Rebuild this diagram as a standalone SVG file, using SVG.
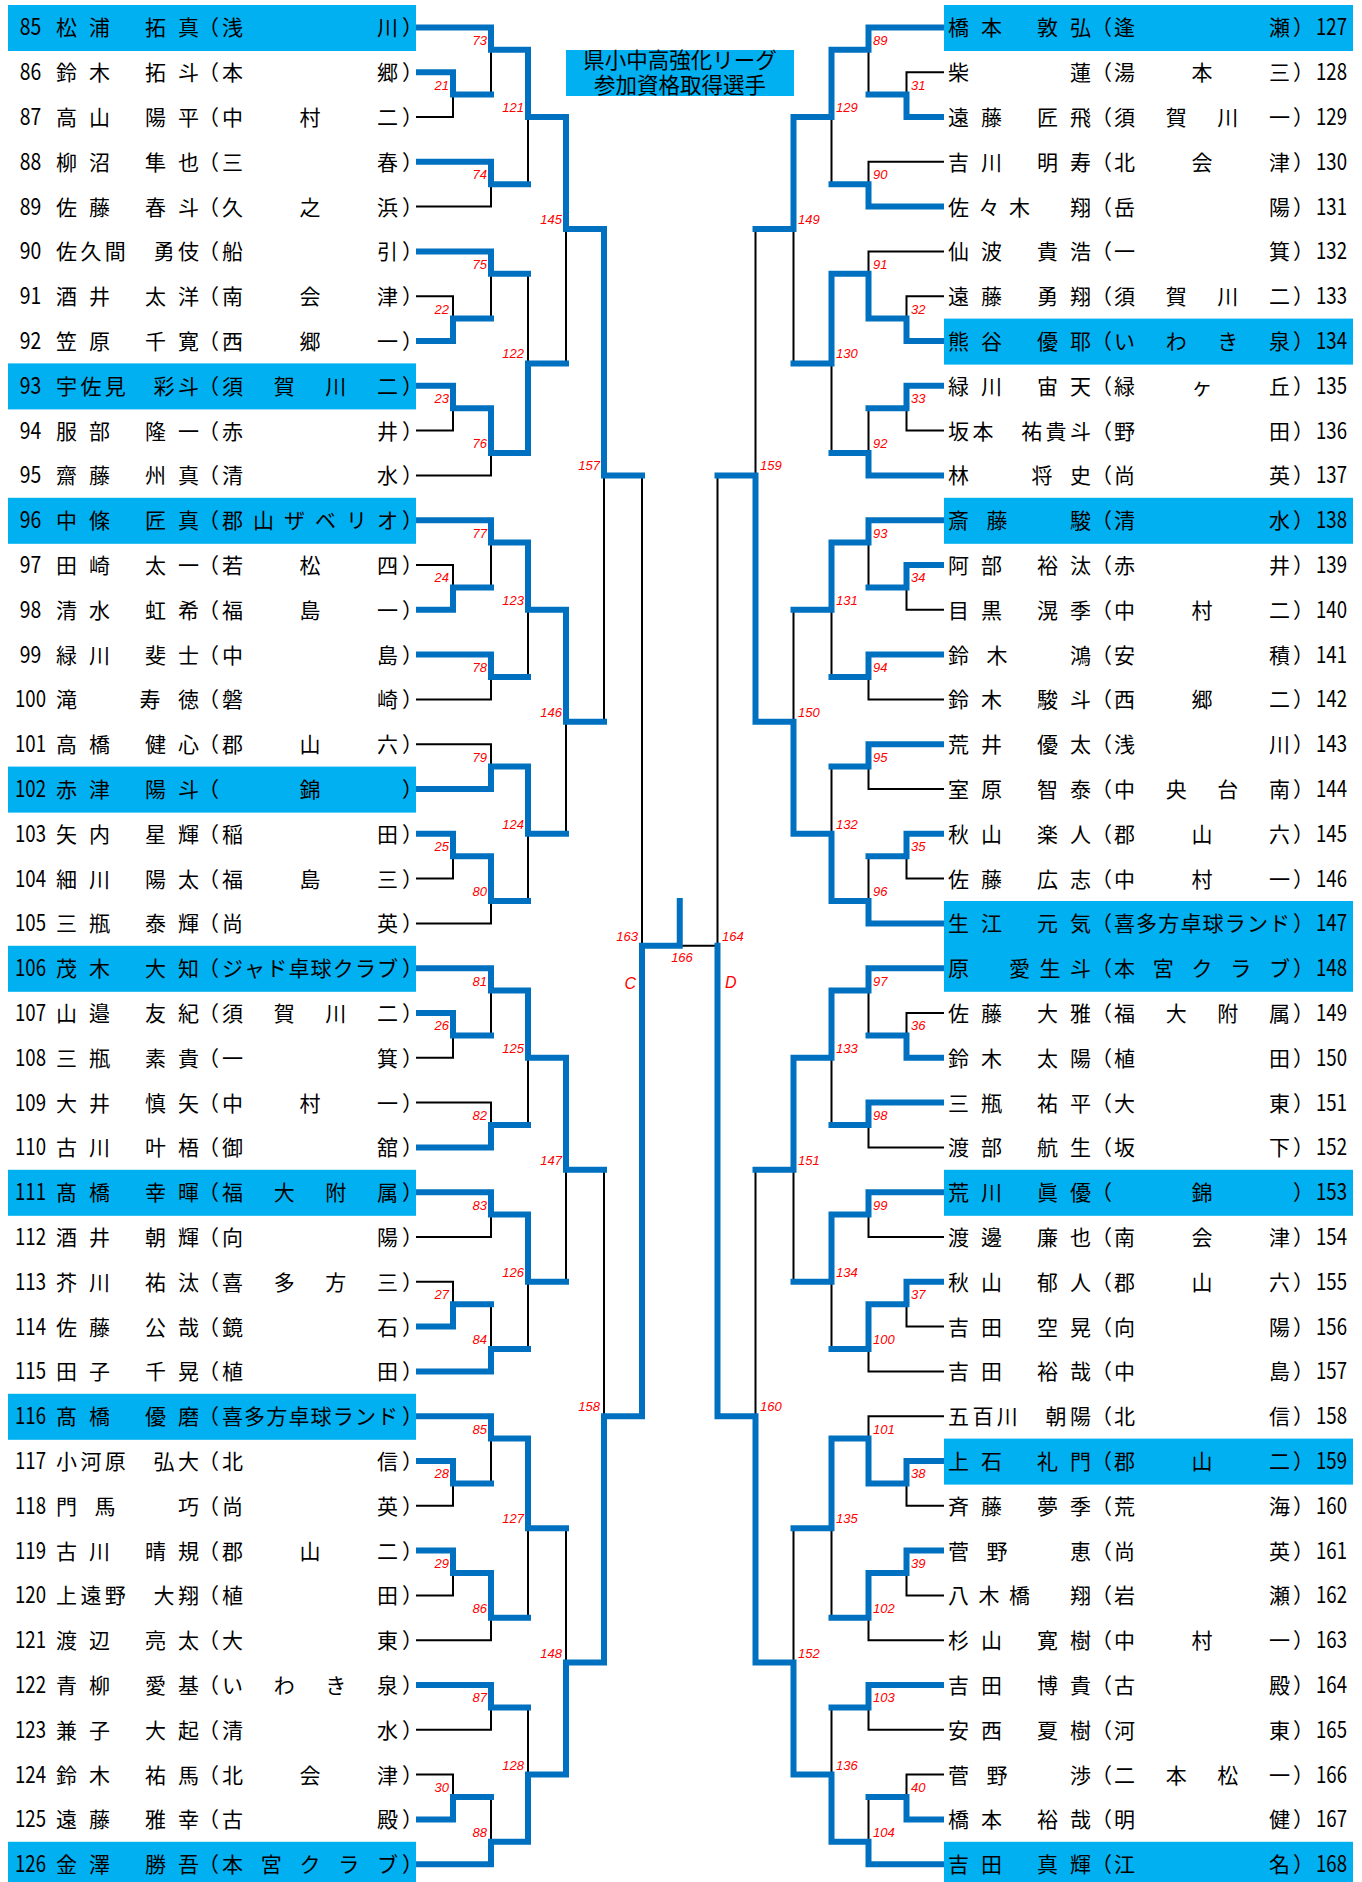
<svg xmlns="http://www.w3.org/2000/svg" width="1362" height="1882" viewBox="0 0 1362 1882">
<style>
.bg{fill:#fff}
.hl{fill:#00B0F0}
.t{font-family:"Noto Sans CJK JP","Noto Sans",sans-serif;font-size:21px;fill:#000}
.n{font-family:"Noto Sans CJK JP","Noto Sans",sans-serif;font-size:23px;fill:#000;text-anchor:middle}
.ttl{font-family:"Noto Sans CJK JP","Noto Sans",sans-serif;font-size:21.5px;fill:#000;text-anchor:middle}
.w{fill:none;stroke:#0070C0;stroke-width:6;stroke-linecap:square}
.l{fill:none;stroke:#000;stroke-width:2;stroke-linecap:square}
.lb{font-family:"Liberation Sans",sans-serif;font-style:italic;font-size:13px;fill:#FF0000;text-anchor:end}
.rb{font-family:"Liberation Sans",sans-serif;font-style:italic;font-size:13px;fill:#FF0000;text-anchor:start}
.cb{font-family:"Liberation Sans",sans-serif;font-style:italic;font-size:13px;fill:#FF0000;text-anchor:middle}
.big{font-size:16px}
</style>
<rect class="bg" x="0" y="0" width="1362" height="1882"/>
<g id="title"><rect class="hl" x="566" y="50" width="228" height="46"/><text class="ttl"><tspan x="680" y="68">県小中高強化リーグ</tspan><tspan x="680" y="93">参加資格取得選手</tspan></text></g>
<g id="left-players">
<g id="p85"><rect class="hl" x="8" y="5" width="408" height="46"/><text class="n" x="30.5" y="35.4" textLength="21.5" lengthAdjust="spacingAndGlyphs">85</text><text class="t" x="56 89.1 144.9 178" y="35.4">松浦拓真</text><text class="t" x="198 222 377 402" y="35.4">（浅川）</text></g>
<g id="p86"><text class="n" x="30.5" y="80.2" textLength="21.5" lengthAdjust="spacingAndGlyphs">86</text><text class="t" x="56 89.1 144.9 178" y="80.2">鈴木拓斗</text><text class="t" x="198 222 377 402" y="80.2">（本郷）</text></g>
<g id="p87"><text class="n" x="30.5" y="125" textLength="21.5" lengthAdjust="spacingAndGlyphs">87</text><text class="t" x="56 89.1 144.9 178" y="125">高山陽平</text><text class="t" x="198 222 299.5 377 402" y="125">（中村二）</text></g>
<g id="p88"><text class="n" x="30.5" y="169.8" textLength="21.5" lengthAdjust="spacingAndGlyphs">88</text><text class="t" x="56 89.1 144.9 178" y="169.8">柳沼隼也</text><text class="t" x="198 222 377 402" y="169.8">（三春）</text></g>
<g id="p89"><text class="n" x="30.5" y="214.6" textLength="21.5" lengthAdjust="spacingAndGlyphs">89</text><text class="t" x="56 89.1 144.9 178" y="214.6">佐藤春斗</text><text class="t" x="198 222 299.5 377 402" y="214.6">（久之浜）</text></g>
<g id="p90"><text class="n" x="30.5" y="259.4" textLength="21.5" lengthAdjust="spacingAndGlyphs">90</text><text class="t" x="56 80.4 104.8 153.6 178" y="259.4">佐久間勇伎</text><text class="t" x="198 222 377 402" y="259.4">（船引）</text></g>
<g id="p91"><text class="n" x="30.5" y="304.2" textLength="21.5" lengthAdjust="spacingAndGlyphs">91</text><text class="t" x="56 89.1 144.9 178" y="304.2">酒井太洋</text><text class="t" x="198 222 299.5 377 402" y="304.2">（南会津）</text></g>
<g id="p92"><text class="n" x="30.5" y="349" textLength="21.5" lengthAdjust="spacingAndGlyphs">92</text><text class="t" x="56 89.1 144.9 178" y="349">笠原千寛</text><text class="t" x="198 222 299.5 377 402" y="349">（西郷一）</text></g>
<g id="p93"><rect class="hl" x="8" y="363.4" width="408" height="46"/><text class="n" x="30.5" y="393.8" textLength="21.5" lengthAdjust="spacingAndGlyphs">93</text><text class="t" x="56 80.4 104.8 153.6 178" y="393.8">宇佐見彩斗</text><text class="t" x="198 222 273.7 325.3 377 402" y="393.8">（須賀川二）</text></g>
<g id="p94"><text class="n" x="30.5" y="438.6" textLength="21.5" lengthAdjust="spacingAndGlyphs">94</text><text class="t" x="56 89.1 144.9 178" y="438.6">服部隆一</text><text class="t" x="198 222 377 402" y="438.6">（赤井）</text></g>
<g id="p95"><text class="n" x="30.5" y="483.4" textLength="21.5" lengthAdjust="spacingAndGlyphs">95</text><text class="t" x="56 89.1 144.9 178" y="483.4">齋藤州真</text><text class="t" x="198 222 377 402" y="483.4">（清水）</text></g>
<g id="p96"><rect class="hl" x="8" y="497.8" width="408" height="46"/><text class="n" x="30.5" y="528.2" textLength="21.5" lengthAdjust="spacingAndGlyphs">96</text><text class="t" x="56 89.1 144.9 178" y="528.2">中條匠真</text><text class="t" x="198 222 253 284 315 346 377 402" y="528.2">（郡山ザベリオ）</text></g>
<g id="p97"><text class="n" x="30.5" y="573" textLength="21.5" lengthAdjust="spacingAndGlyphs">97</text><text class="t" x="56 89.1 144.9 178" y="573">田崎太一</text><text class="t" x="198 222 299.5 377 402" y="573">（若松四）</text></g>
<g id="p98"><text class="n" x="30.5" y="617.8" textLength="21.5" lengthAdjust="spacingAndGlyphs">98</text><text class="t" x="56 89.1 144.9 178" y="617.8">清水虹希</text><text class="t" x="198 222 299.5 377 402" y="617.8">（福島一）</text></g>
<g id="p99"><text class="n" x="30.5" y="662.6" textLength="21.5" lengthAdjust="spacingAndGlyphs">99</text><text class="t" x="56 89.1 144.9 178" y="662.6">緑川斐士</text><text class="t" x="198 222 377 402" y="662.6">（中島）</text></g>
<g id="p100"><text class="n" x="30.5" y="707.4" textLength="31" lengthAdjust="spacingAndGlyphs">100</text><text class="t" x="56 139.5 178" y="707.4">滝寿徳</text><text class="t" x="198 222 377 402" y="707.4">（磐崎）</text></g>
<g id="p101"><text class="n" x="30.5" y="752.2" textLength="31" lengthAdjust="spacingAndGlyphs">101</text><text class="t" x="56 89.1 144.9 178" y="752.2">高橋健心</text><text class="t" x="198 222 299.5 377 402" y="752.2">（郡山六）</text></g>
<g id="p102"><rect class="hl" x="8" y="766.6" width="408" height="46"/><text class="n" x="30.5" y="797" textLength="31" lengthAdjust="spacingAndGlyphs">102</text><text class="t" x="56 89.1 144.9 178" y="797">赤津陽斗</text><text class="t" x="198 299.5 402" y="797">（錦）</text></g>
<g id="p103"><text class="n" x="30.5" y="841.8" textLength="31" lengthAdjust="spacingAndGlyphs">103</text><text class="t" x="56 89.1 144.9 178" y="841.8">矢内星輝</text><text class="t" x="198 222 377 402" y="841.8">（稲田）</text></g>
<g id="p104"><text class="n" x="30.5" y="886.6" textLength="31" lengthAdjust="spacingAndGlyphs">104</text><text class="t" x="56 89.1 144.9 178" y="886.6">細川陽太</text><text class="t" x="198 222 299.5 377 402" y="886.6">（福島三）</text></g>
<g id="p105"><text class="n" x="30.5" y="931.4" textLength="31" lengthAdjust="spacingAndGlyphs">105</text><text class="t" x="56 89.1 144.9 178" y="931.4">三瓶泰輝</text><text class="t" x="198 222 377 402" y="931.4">（尚英）</text></g>
<g id="p106"><rect class="hl" x="8" y="945.8" width="408" height="46"/><text class="n" x="30.5" y="976.2" textLength="31" lengthAdjust="spacingAndGlyphs">106</text><text class="t" x="56 89.1 144.9 178" y="976.2">茂木大知</text><text class="t" x="198 222 244.1 266.3 288.4 310.6 332.7 354.9 377 402" y="976.2">（ジャド卓球クラブ）</text></g>
<g id="p107"><text class="n" x="30.5" y="1021" textLength="31" lengthAdjust="spacingAndGlyphs">107</text><text class="t" x="56 89.1 144.9 178" y="1021">山邉友紀</text><text class="t" x="198 222 273.7 325.3 377 402" y="1021">（須賀川二）</text></g>
<g id="p108"><text class="n" x="30.5" y="1065.8" textLength="31" lengthAdjust="spacingAndGlyphs">108</text><text class="t" x="56 89.1 144.9 178" y="1065.8">三瓶素貴</text><text class="t" x="198 222 377 402" y="1065.8">（一箕）</text></g>
<g id="p109"><text class="n" x="30.5" y="1110.6" textLength="31" lengthAdjust="spacingAndGlyphs">109</text><text class="t" x="56 89.1 144.9 178" y="1110.6">大井慎矢</text><text class="t" x="198 222 299.5 377 402" y="1110.6">（中村一）</text></g>
<g id="p110"><text class="n" x="30.5" y="1155.4" textLength="31" lengthAdjust="spacingAndGlyphs">110</text><text class="t" x="56 89.1 144.9 178" y="1155.4">古川叶梧</text><text class="t" x="198 222 377 402" y="1155.4">（御舘）</text></g>
<g id="p111"><rect class="hl" x="8" y="1169.8" width="408" height="46"/><text class="n" x="30.5" y="1200.2" textLength="31" lengthAdjust="spacingAndGlyphs">111</text><text class="t" x="56 89.1 144.9 178" y="1200.2">髙橋幸暉</text><text class="t" x="198 222 273.7 325.3 377 402" y="1200.2">（福大附属）</text></g>
<g id="p112"><text class="n" x="30.5" y="1245" textLength="31" lengthAdjust="spacingAndGlyphs">112</text><text class="t" x="56 89.1 144.9 178" y="1245">酒井朝輝</text><text class="t" x="198 222 377 402" y="1245">（向陽）</text></g>
<g id="p113"><text class="n" x="30.5" y="1289.8" textLength="31" lengthAdjust="spacingAndGlyphs">113</text><text class="t" x="56 89.1 144.9 178" y="1289.8">芥川祐汰</text><text class="t" x="198 222 273.7 325.3 377 402" y="1289.8">（喜多方三）</text></g>
<g id="p114"><text class="n" x="30.5" y="1334.6" textLength="31" lengthAdjust="spacingAndGlyphs">114</text><text class="t" x="56 89.1 144.9 178" y="1334.6">佐藤公哉</text><text class="t" x="198 222 377 402" y="1334.6">（鏡石）</text></g>
<g id="p115"><text class="n" x="30.5" y="1379.4" textLength="31" lengthAdjust="spacingAndGlyphs">115</text><text class="t" x="56 89.1 144.9 178" y="1379.4">田子千晃</text><text class="t" x="198 222 377 402" y="1379.4">（植田）</text></g>
<g id="p116"><rect class="hl" x="8" y="1393.8" width="408" height="46"/><text class="n" x="30.5" y="1424.2" textLength="31" lengthAdjust="spacingAndGlyphs">116</text><text class="t" x="56 89.1 144.9 178" y="1424.2">髙橋優磨</text><text class="t" x="198 222 244.1 266.3 288.4 310.6 332.7 354.9 377 402" y="1424.2">（喜多方卓球ランド）</text></g>
<g id="p117"><text class="n" x="30.5" y="1469" textLength="31" lengthAdjust="spacingAndGlyphs">117</text><text class="t" x="56 80.4 104.8 153.6 178" y="1469">小河原弘大</text><text class="t" x="198 222 377 402" y="1469">（北信）</text></g>
<g id="p118"><text class="n" x="30.5" y="1513.8" textLength="31" lengthAdjust="spacingAndGlyphs">118</text><text class="t" x="56 94.5 178" y="1513.8">門馬巧</text><text class="t" x="198 222 377 402" y="1513.8">（尚英）</text></g>
<g id="p119"><text class="n" x="30.5" y="1558.6" textLength="31" lengthAdjust="spacingAndGlyphs">119</text><text class="t" x="56 89.1 144.9 178" y="1558.6">古川晴規</text><text class="t" x="198 222 299.5 377 402" y="1558.6">（郡山二）</text></g>
<g id="p120"><text class="n" x="30.5" y="1603.4" textLength="31" lengthAdjust="spacingAndGlyphs">120</text><text class="t" x="56 80.4 104.8 153.6 178" y="1603.4">上遠野大翔</text><text class="t" x="198 222 377 402" y="1603.4">（植田）</text></g>
<g id="p121"><text class="n" x="30.5" y="1648.2" textLength="31" lengthAdjust="spacingAndGlyphs">121</text><text class="t" x="56 89.1 144.9 178" y="1648.2">渡辺亮太</text><text class="t" x="198 222 377 402" y="1648.2">（大東）</text></g>
<g id="p122"><text class="n" x="30.5" y="1693" textLength="31" lengthAdjust="spacingAndGlyphs">122</text><text class="t" x="56 89.1 144.9 178" y="1693">青柳愛基</text><text class="t" x="198 222 273.7 325.3 377 402" y="1693">（いわき泉）</text></g>
<g id="p123"><text class="n" x="30.5" y="1737.8" textLength="31" lengthAdjust="spacingAndGlyphs">123</text><text class="t" x="56 89.1 144.9 178" y="1737.8">兼子大起</text><text class="t" x="198 222 377 402" y="1737.8">（清水）</text></g>
<g id="p124"><text class="n" x="30.5" y="1782.6" textLength="31" lengthAdjust="spacingAndGlyphs">124</text><text class="t" x="56 89.1 144.9 178" y="1782.6">鈴木祐馬</text><text class="t" x="198 222 299.5 377 402" y="1782.6">（北会津）</text></g>
<g id="p125"><text class="n" x="30.5" y="1827.4" textLength="31" lengthAdjust="spacingAndGlyphs">125</text><text class="t" x="56 89.1 144.9 178" y="1827.4">遠藤雅幸</text><text class="t" x="198 222 377 402" y="1827.4">（古殿）</text></g>
<g id="p126"><rect class="hl" x="8" y="1841.8" width="408" height="46"/><text class="n" x="30.5" y="1872.2" textLength="31" lengthAdjust="spacingAndGlyphs">126</text><text class="t" x="56 89.1 144.9 178" y="1872.2">金澤勝吾</text><text class="t" x="198 222 260.8 299.5 338.3 377 402" y="1872.2">（本宮クラブ）</text></g>
</g>
<g id="right-players">
<g id="p127"><rect class="hl" x="944" y="5" width="409" height="46"/><text class="t" x="948 981.1 1036.9 1070" y="35.4">橋本敦弘</text><text class="t" x="1091 1114 1269 1293" y="35.4">（逢瀬）</text><text class="n" x="1331.5" y="35.4" textLength="31" lengthAdjust="spacingAndGlyphs">127</text></g>
<g id="p128"><text class="t" x="948 1070" y="80.2">柴蓮</text><text class="t" x="1091 1114 1191.5 1269 1293" y="80.2">（湯本三）</text><text class="n" x="1331.5" y="80.2" textLength="31" lengthAdjust="spacingAndGlyphs">128</text></g>
<g id="p129"><text class="t" x="948 981.1 1036.9 1070" y="125">遠藤匠飛</text><text class="t" x="1091 1114 1165.7 1217.3 1269 1293" y="125">（須賀川一）</text><text class="n" x="1331.5" y="125" textLength="31" lengthAdjust="spacingAndGlyphs">129</text></g>
<g id="p130"><text class="t" x="948 981.1 1036.9 1070" y="169.8">吉川明寿</text><text class="t" x="1091 1114 1191.5 1269 1293" y="169.8">（北会津）</text><text class="n" x="1331.5" y="169.8" textLength="31" lengthAdjust="spacingAndGlyphs">130</text></g>
<g id="p131"><text class="t" x="948 978.5 1009 1070" y="214.6">佐々木翔</text><text class="t" x="1091 1114 1269 1293" y="214.6">（岳陽）</text><text class="n" x="1331.5" y="214.6" textLength="31" lengthAdjust="spacingAndGlyphs">131</text></g>
<g id="p132"><text class="t" x="948 981.1 1036.9 1070" y="259.4">仙波貴浩</text><text class="t" x="1091 1114 1269 1293" y="259.4">（一箕）</text><text class="n" x="1331.5" y="259.4" textLength="31" lengthAdjust="spacingAndGlyphs">132</text></g>
<g id="p133"><text class="t" x="948 981.1 1036.9 1070" y="304.2">遠藤勇翔</text><text class="t" x="1091 1114 1165.7 1217.3 1269 1293" y="304.2">（須賀川二）</text><text class="n" x="1331.5" y="304.2" textLength="31" lengthAdjust="spacingAndGlyphs">133</text></g>
<g id="p134"><rect class="hl" x="944" y="318.6" width="409" height="46"/><text class="t" x="948 981.1 1036.9 1070" y="349">熊谷優耶</text><text class="t" x="1091 1114 1165.7 1217.3 1269 1293" y="349">（いわき泉）</text><text class="n" x="1331.5" y="349" textLength="31" lengthAdjust="spacingAndGlyphs">134</text></g>
<g id="p135"><text class="t" x="948 981.1 1036.9 1070" y="393.8">緑川宙天</text><text class="t" x="1091 1114 1191.5 1269 1293" y="393.8">（緑ヶ丘）</text><text class="n" x="1331.5" y="393.8" textLength="31" lengthAdjust="spacingAndGlyphs">135</text></g>
<g id="p136"><text class="t" x="948 972.4 1021.2 1045.6 1070" y="438.6">坂本祐貴斗</text><text class="t" x="1091 1114 1269 1293" y="438.6">（野田）</text><text class="n" x="1331.5" y="438.6" textLength="31" lengthAdjust="spacingAndGlyphs">136</text></g>
<g id="p137"><text class="t" x="948 1031.5 1070" y="483.4">林将史</text><text class="t" x="1091 1114 1269 1293" y="483.4">（尚英）</text><text class="n" x="1331.5" y="483.4" textLength="31" lengthAdjust="spacingAndGlyphs">137</text></g>
<g id="p138"><rect class="hl" x="944" y="497.8" width="409" height="46"/><text class="t" x="948 986.5 1070" y="528.2">斎藤駿</text><text class="t" x="1091 1114 1269 1293" y="528.2">（清水）</text><text class="n" x="1331.5" y="528.2" textLength="31" lengthAdjust="spacingAndGlyphs">138</text></g>
<g id="p139"><text class="t" x="948 981.1 1036.9 1070" y="573">阿部裕汰</text><text class="t" x="1091 1114 1269 1293" y="573">（赤井）</text><text class="n" x="1331.5" y="573" textLength="31" lengthAdjust="spacingAndGlyphs">139</text></g>
<g id="p140"><text class="t" x="948 981.1 1036.9 1070" y="617.8">目黒滉季</text><text class="t" x="1091 1114 1191.5 1269 1293" y="617.8">（中村二）</text><text class="n" x="1331.5" y="617.8" textLength="31" lengthAdjust="spacingAndGlyphs">140</text></g>
<g id="p141"><text class="t" x="948 986.5 1070" y="662.6">鈴木鴻</text><text class="t" x="1091 1114 1269 1293" y="662.6">（安積）</text><text class="n" x="1331.5" y="662.6" textLength="31" lengthAdjust="spacingAndGlyphs">141</text></g>
<g id="p142"><text class="t" x="948 981.1 1036.9 1070" y="707.4">鈴木駿斗</text><text class="t" x="1091 1114 1191.5 1269 1293" y="707.4">（西郷二）</text><text class="n" x="1331.5" y="707.4" textLength="31" lengthAdjust="spacingAndGlyphs">142</text></g>
<g id="p143"><text class="t" x="948 981.1 1036.9 1070" y="752.2">荒井優太</text><text class="t" x="1091 1114 1269 1293" y="752.2">（浅川）</text><text class="n" x="1331.5" y="752.2" textLength="31" lengthAdjust="spacingAndGlyphs">143</text></g>
<g id="p144"><text class="t" x="948 981.1 1036.9 1070" y="797">室原智泰</text><text class="t" x="1091 1114 1165.7 1217.3 1269 1293" y="797">（中央台南）</text><text class="n" x="1331.5" y="797" textLength="31" lengthAdjust="spacingAndGlyphs">144</text></g>
<g id="p145"><text class="t" x="948 981.1 1036.9 1070" y="841.8">秋山楽人</text><text class="t" x="1091 1114 1191.5 1269 1293" y="841.8">（郡山六）</text><text class="n" x="1331.5" y="841.8" textLength="31" lengthAdjust="spacingAndGlyphs">145</text></g>
<g id="p146"><text class="t" x="948 981.1 1036.9 1070" y="886.6">佐藤広志</text><text class="t" x="1091 1114 1191.5 1269 1293" y="886.6">（中村一）</text><text class="n" x="1331.5" y="886.6" textLength="31" lengthAdjust="spacingAndGlyphs">146</text></g>
<g id="p147"><rect class="hl" x="944" y="901" width="409" height="46"/><text class="t" x="948 981.1 1036.9 1070" y="931.4">生江元気</text><text class="t" x="1091 1114 1136.1 1158.3 1180.4 1202.6 1224.7 1246.9 1269 1293" y="931.4">（喜多方卓球ランド）</text><text class="n" x="1331.5" y="931.4" textLength="31" lengthAdjust="spacingAndGlyphs">147</text></g>
<g id="p148"><rect class="hl" x="944" y="945.8" width="409" height="46"/><text class="t" x="948 1009 1039.5 1070" y="976.2">原愛生斗</text><text class="t" x="1091 1114 1152.8 1191.5 1230.3 1269 1293" y="976.2">（本宮クラブ）</text><text class="n" x="1331.5" y="976.2" textLength="31" lengthAdjust="spacingAndGlyphs">148</text></g>
<g id="p149"><text class="t" x="948 981.1 1036.9 1070" y="1021">佐藤大雅</text><text class="t" x="1091 1114 1165.7 1217.3 1269 1293" y="1021">（福大附属）</text><text class="n" x="1331.5" y="1021" textLength="31" lengthAdjust="spacingAndGlyphs">149</text></g>
<g id="p150"><text class="t" x="948 981.1 1036.9 1070" y="1065.8">鈴木太陽</text><text class="t" x="1091 1114 1269 1293" y="1065.8">（植田）</text><text class="n" x="1331.5" y="1065.8" textLength="31" lengthAdjust="spacingAndGlyphs">150</text></g>
<g id="p151"><text class="t" x="948 981.1 1036.9 1070" y="1110.6">三瓶祐平</text><text class="t" x="1091 1114 1269 1293" y="1110.6">（大東）</text><text class="n" x="1331.5" y="1110.6" textLength="31" lengthAdjust="spacingAndGlyphs">151</text></g>
<g id="p152"><text class="t" x="948 981.1 1036.9 1070" y="1155.4">渡部航生</text><text class="t" x="1091 1114 1269 1293" y="1155.4">（坂下）</text><text class="n" x="1331.5" y="1155.4" textLength="31" lengthAdjust="spacingAndGlyphs">152</text></g>
<g id="p153"><rect class="hl" x="944" y="1169.8" width="409" height="46"/><text class="t" x="948 981.1 1036.9 1070" y="1200.2">荒川眞優</text><text class="t" x="1091 1191.5 1293" y="1200.2">（錦）</text><text class="n" x="1331.5" y="1200.2" textLength="31" lengthAdjust="spacingAndGlyphs">153</text></g>
<g id="p154"><text class="t" x="948 981.1 1036.9 1070" y="1245">渡邊廉也</text><text class="t" x="1091 1114 1191.5 1269 1293" y="1245">（南会津）</text><text class="n" x="1331.5" y="1245" textLength="31" lengthAdjust="spacingAndGlyphs">154</text></g>
<g id="p155"><text class="t" x="948 981.1 1036.9 1070" y="1289.8">秋山郁人</text><text class="t" x="1091 1114 1191.5 1269 1293" y="1289.8">（郡山六）</text><text class="n" x="1331.5" y="1289.8" textLength="31" lengthAdjust="spacingAndGlyphs">155</text></g>
<g id="p156"><text class="t" x="948 981.1 1036.9 1070" y="1334.6">吉田空晃</text><text class="t" x="1091 1114 1269 1293" y="1334.6">（向陽）</text><text class="n" x="1331.5" y="1334.6" textLength="31" lengthAdjust="spacingAndGlyphs">156</text></g>
<g id="p157"><text class="t" x="948 981.1 1036.9 1070" y="1379.4">吉田裕哉</text><text class="t" x="1091 1114 1269 1293" y="1379.4">（中島）</text><text class="n" x="1331.5" y="1379.4" textLength="31" lengthAdjust="spacingAndGlyphs">157</text></g>
<g id="p158"><text class="t" x="948 972.4 996.8 1045.6 1070" y="1424.2">五百川朝陽</text><text class="t" x="1091 1114 1269 1293" y="1424.2">（北信）</text><text class="n" x="1331.5" y="1424.2" textLength="31" lengthAdjust="spacingAndGlyphs">158</text></g>
<g id="p159"><rect class="hl" x="944" y="1438.6" width="409" height="46"/><text class="t" x="948 981.1 1036.9 1070" y="1469">上石礼門</text><text class="t" x="1091 1114 1191.5 1269 1293" y="1469">（郡山二）</text><text class="n" x="1331.5" y="1469" textLength="31" lengthAdjust="spacingAndGlyphs">159</text></g>
<g id="p160"><text class="t" x="948 981.1 1036.9 1070" y="1513.8">斉藤夢季</text><text class="t" x="1091 1114 1269 1293" y="1513.8">（荒海）</text><text class="n" x="1331.5" y="1513.8" textLength="31" lengthAdjust="spacingAndGlyphs">160</text></g>
<g id="p161"><text class="t" x="948 986.5 1070" y="1558.6">菅野恵</text><text class="t" x="1091 1114 1269 1293" y="1558.6">（尚英）</text><text class="n" x="1331.5" y="1558.6" textLength="31" lengthAdjust="spacingAndGlyphs">161</text></g>
<g id="p162"><text class="t" x="948 978.5 1009 1070" y="1603.4">八木橋翔</text><text class="t" x="1091 1114 1269 1293" y="1603.4">（岩瀬）</text><text class="n" x="1331.5" y="1603.4" textLength="31" lengthAdjust="spacingAndGlyphs">162</text></g>
<g id="p163"><text class="t" x="948 981.1 1036.9 1070" y="1648.2">杉山寛樹</text><text class="t" x="1091 1114 1191.5 1269 1293" y="1648.2">（中村一）</text><text class="n" x="1331.5" y="1648.2" textLength="31" lengthAdjust="spacingAndGlyphs">163</text></g>
<g id="p164"><text class="t" x="948 981.1 1036.9 1070" y="1693">吉田博貴</text><text class="t" x="1091 1114 1269 1293" y="1693">（古殿）</text><text class="n" x="1331.5" y="1693" textLength="31" lengthAdjust="spacingAndGlyphs">164</text></g>
<g id="p165"><text class="t" x="948 981.1 1036.9 1070" y="1737.8">安西夏樹</text><text class="t" x="1091 1114 1269 1293" y="1737.8">（河東）</text><text class="n" x="1331.5" y="1737.8" textLength="31" lengthAdjust="spacingAndGlyphs">165</text></g>
<g id="p166"><text class="t" x="948 986.5 1070" y="1782.6">菅野渉</text><text class="t" x="1091 1114 1165.7 1217.3 1269 1293" y="1782.6">（二本松一）</text><text class="n" x="1331.5" y="1782.6" textLength="31" lengthAdjust="spacingAndGlyphs">166</text></g>
<g id="p167"><text class="t" x="948 981.1 1036.9 1070" y="1827.4">橋本裕哉</text><text class="t" x="1091 1114 1269 1293" y="1827.4">（明健）</text><text class="n" x="1331.5" y="1827.4" textLength="31" lengthAdjust="spacingAndGlyphs">167</text></g>
<g id="p168"><rect class="hl" x="944" y="1841.8" width="409" height="46"/><text class="t" x="948 981.1 1036.9 1070" y="1872.2">吉田真輝</text><text class="t" x="1091 1114 1269 1293" y="1872.2">（江名）</text><text class="n" x="1331.5" y="1872.2" textLength="31" lengthAdjust="spacingAndGlyphs">168</text></g>
</g>
<g id="connectors">
<path class="l" d="M417 117H453M417 206.6H491M417 296.2H453M417 430.6H453M417 475.4H491M417 565H453M417 699.4H491M417 744.2H491M417 878.6H453M417 923.4H491M417 1057.8H453M417 1102.6H491M417 1237H491M417 1281.8H453M417 1505.8H453M417 1595.4H453M417 1640.2H491M417 1729.8H491M417 1774.6H453
M453 117V94.6M453 296.2V318.6M453 430.6V408.2M453 565V587.4M453 878.6V856.2M453 1057.8V1035.4M453 1281.8V1304.2M453 1505.8V1483.4M453 1595.4V1573M453 1774.6V1797
M491 94.6V49.8M491 206.6V184.2M491 318.6V273.8M491 475.4V453M491 587.4V542.6M491 699.4V677M491 744.2V766.6M491 923.4V901M491 1035.4V990.6M491 1102.6V1125M491 1237V1214.6M491 1304.2V1349M491 1483.4V1438.6M491 1640.2V1617.8M491 1729.8V1707.4M491 1797V1841.8
M528 184.2V117M528 273.8V363.4M528 677V609.8M528 901V833.8M528 1125V1057.8M528 1349V1281.8M528 1617.8V1528.2M528 1707.4V1774.6
M566 363.4V229M566 833.8V721.8M566 1281.8V1169.8M566 1528.2V1662.6
M604 721.8V475.4M604 1169.8V1416.2
M642 475.4V945.8
M679.75 945.8H717.5
M943 72.2H906.5M943 161.8H868.5M943 251.4H868.5M943 296.2H906.5M943 430.6H906.5M943 609.8H906.5M943 699.4H868.5M943 789H868.5M943 878.6H906.5M943 1013H906.5M943 1147.4H868.5M943 1237H868.5M943 1326.6H906.5M943 1371.4H868.5M943 1416.2H868.5M943 1505.8H906.5M943 1595.4H906.5M943 1640.2H868.5M943 1729.8H868.5M943 1774.6H906.5
M906.5 72.2V94.6M906.5 296.2V318.6M906.5 430.6V408.2M906.5 609.8V587.4M906.5 878.6V856.2M906.5 1013V1035.4M906.5 1326.6V1304.2M906.5 1505.8V1483.4M906.5 1595.4V1573M906.5 1774.6V1797
M868.5 94.6V49.8M868.5 161.8V184.2M868.5 251.4V273.8M868.5 408.2V453M868.5 587.4V542.6M868.5 699.4V677M868.5 789V766.6M868.5 856.2V901M868.5 1035.4V990.6M868.5 1147.4V1125M868.5 1237V1214.6M868.5 1371.4V1349M868.5 1416.2V1438.6M868.5 1640.2V1617.8M868.5 1729.8V1707.4M868.5 1797V1841.8
M831.5 184.2V117M831.5 453V363.4M831.5 677V609.8M831.5 766.6V833.8M831.5 1125V1057.8M831.5 1349V1281.8M831.5 1617.8V1528.2M831.5 1707.4V1774.6
M793.5 363.4V229M793.5 609.8V721.8M793.5 1281.8V1169.8M793.5 1528.2V1662.6
M755.5 229V475.4M755.5 1169.8V1416.2
M717.5 475.4V945.8"/>
<path class="w" d="M419 27.4H491M419 72.2H453M419 161.8H491M419 251.4H491M419 341H453M419 385.8H453M419 520.2H491M419 609.8H453M419 654.6H491M419 789H491M419 833.8H453M419 968.2H491M419 1013H453M419 1147.4H491M419 1192.2H491M419 1326.6H453M419 1371.4H491M419 1416.2H491M419 1461H453M419 1550.6H453M419 1685H491M419 1819.4H453M419 1864.2H491
M453 72.2V94.6M453 341V318.6M453 385.8V408.2M453 609.8V587.4M453 833.8V856.2M453 1013V1035.4M453 1326.6V1304.2M453 1461V1483.4M453 1550.6V1573M453 1819.4V1797
M491 27.4V49.8M491 161.8V184.2M491 251.4V273.8M491 408.2V453M491 520.2V542.6M491 654.6V677M491 789V766.6M491 856.2V901M491 968.2V990.6M491 1147.4V1125M491 1192.2V1214.6M491 1371.4V1349M491 1416.2V1438.6M491 1573V1617.8M491 1685V1707.4M491 1864.2V1841.8
M528 49.8V117M528 453V363.4M528 542.6V609.8M528 766.6V833.8M528 990.6V1057.8M528 1214.6V1281.8M528 1438.6V1528.2M528 1841.8V1774.6
M566 117V229M566 609.8V721.8M566 1057.8V1169.8M566 1774.6V1662.6
M604 229V475.4M604 1662.6V1416.2
M642 1416.2V945.8
M453 94.6H491M453 318.6H491M453 408.2H491M453 587.4H491M453 856.2H491M453 1035.4H491M453 1304.2H491M453 1483.4H491M453 1573H491M453 1797H491
M491 49.8H528M491 184.2H528M491 273.8H528M491 453H528M491 542.6H528M491 677H528M491 766.6H528M491 901H528M491 990.6H528M491 1125H528M491 1214.6H528M491 1349H528M491 1438.6H528M491 1617.8H528M491 1707.4H528M491 1841.8H528
M528 117H566M528 363.4H566M528 609.8H566M528 833.8H566M528 1057.8H566M528 1281.8H566M528 1528.2H566M528 1774.6H566
M566 229H604M566 721.8H604M566 1169.8H604M566 1662.6H604
M604 475.4H642M604 1416.2H642
M642 945.8H679.75M679.75 901V945.8
M941 27.4H868.5M941 117H906.5M941 206.6H868.5M941 341H906.5M941 385.8H906.5M941 475.4H868.5M941 520.2H868.5M941 565H906.5M941 654.6H868.5M941 744.2H868.5M941 833.8H906.5M941 923.4H868.5M941 968.2H868.5M941 1057.8H906.5M941 1102.6H868.5M941 1192.2H868.5M941 1281.8H906.5M941 1461H906.5M941 1550.6H906.5M941 1685H868.5M941 1819.4H906.5M941 1864.2H868.5
M906.5 117V94.6M906.5 341V318.6M906.5 385.8V408.2M906.5 565V587.4M906.5 833.8V856.2M906.5 1057.8V1035.4M906.5 1281.8V1304.2M906.5 1461V1483.4M906.5 1550.6V1573M906.5 1819.4V1797
M868.5 27.4V49.8M868.5 206.6V184.2M868.5 318.6V273.8M868.5 475.4V453M868.5 520.2V542.6M868.5 654.6V677M868.5 744.2V766.6M868.5 923.4V901M868.5 968.2V990.6M868.5 1102.6V1125M868.5 1192.2V1214.6M868.5 1304.2V1349M868.5 1483.4V1438.6M868.5 1573V1617.8M868.5 1685V1707.4M868.5 1864.2V1841.8
M831.5 49.8V117M831.5 273.8V363.4M831.5 542.6V609.8M831.5 901V833.8M831.5 990.6V1057.8M831.5 1214.6V1281.8M831.5 1438.6V1528.2M831.5 1841.8V1774.6
M793.5 117V229M793.5 833.8V721.8M793.5 1057.8V1169.8M793.5 1774.6V1662.6
M755.5 721.8V475.4M755.5 1662.6V1416.2
M717.5 1416.2V945.8
M906.5 94.6H868.5M906.5 318.6H868.5M906.5 408.2H868.5M906.5 587.4H868.5M906.5 856.2H868.5M906.5 1035.4H868.5M906.5 1304.2H868.5M906.5 1483.4H868.5M906.5 1573H868.5M906.5 1797H868.5
M868.5 49.8H831.5M868.5 184.2H831.5M868.5 273.8H831.5M868.5 453H831.5M868.5 542.6H831.5M868.5 677H831.5M868.5 766.6H831.5M868.5 901H831.5M868.5 990.6H831.5M868.5 1125H831.5M868.5 1214.6H831.5M868.5 1349H831.5M868.5 1438.6H831.5M868.5 1617.8H831.5M868.5 1707.4H831.5M868.5 1841.8H831.5
M831.5 117H793.5M831.5 363.4H793.5M831.5 609.8H793.5M831.5 833.8H793.5M831.5 1057.8H793.5M831.5 1281.8H793.5M831.5 1528.2H793.5M831.5 1774.6H793.5
M793.5 229H755.5M793.5 721.8H755.5M793.5 1169.8H755.5M793.5 1662.6H755.5
M755.5 475.4H717.5M755.5 1416.2H717.5"/>
<g id="match-labels">
<text class="lb" x="449" y="89.6">21</text><text class="lb" x="487" y="44.8">73</text><text class="lb" x="487" y="179.2">74</text><text class="lb" x="524" y="112">121</text>
<text class="lb" x="449" y="313.6">22</text><text class="lb" x="487" y="268.8">75</text><text class="lb" x="449" y="403.2">23</text><text class="lb" x="487" y="448">76</text><text class="lb" x="524" y="358.4">122</text><text class="lb" x="562" y="224">145</text>
<text class="lb" x="449" y="582.4">24</text><text class="lb" x="487" y="537.6">77</text><text class="lb" x="487" y="672">78</text><text class="lb" x="524" y="604.8">123</text>
<text class="lb" x="487" y="761.6">79</text><text class="lb" x="449" y="851.2">25</text><text class="lb" x="487" y="896">80</text><text class="lb" x="524" y="828.8">124</text><text class="lb" x="562" y="716.8">146</text><text class="lb" x="600" y="470.4">157</text>
<text class="lb" x="487" y="985.6">81</text><text class="lb" x="449" y="1030.4">26</text><text class="lb" x="487" y="1120">82</text><text class="lb" x="524" y="1052.8">125</text>
<text class="lb" x="487" y="1209.6">83</text><text class="lb" x="449" y="1299.2">27</text><text class="lb" x="487" y="1344">84</text><text class="lb" x="524" y="1276.8">126</text><text class="lb" x="562" y="1164.8">147</text>
<text class="lb" x="487" y="1433.6">85</text><text class="lb" x="449" y="1478.4">28</text><text class="lb" x="449" y="1568">29</text><text class="lb" x="487" y="1612.8">86</text><text class="lb" x="524" y="1523.2">127</text>
<text class="lb" x="487" y="1702.4">87</text><text class="lb" x="449" y="1792">30</text><text class="lb" x="487" y="1836.8">88</text><text class="lb" x="524" y="1769.6">128</text><text class="lb" x="562" y="1657.6">148</text><text class="lb" x="600" y="1411.2">158</text>
<text class="lb" x="638" y="940.8">163</text>
<text class="rb" x="911" y="89.6">31</text><text class="rb" x="873" y="44.8">89</text><text class="rb" x="873" y="179.2">90</text><text class="rb" x="836" y="112">129</text>
<text class="rb" x="911" y="313.6">32</text><text class="rb" x="873" y="268.8">91</text><text class="rb" x="911" y="403.2">33</text><text class="rb" x="873" y="448">92</text><text class="rb" x="836" y="358.4">130</text><text class="rb" x="798" y="224">149</text>
<text class="rb" x="873" y="537.6">93</text><text class="rb" x="911" y="582.4">34</text><text class="rb" x="873" y="672">94</text><text class="rb" x="836" y="604.8">131</text>
<text class="rb" x="873" y="761.6">95</text><text class="rb" x="911" y="851.2">35</text><text class="rb" x="873" y="896">96</text><text class="rb" x="836" y="828.8">132</text><text class="rb" x="798" y="716.8">150</text><text class="rb" x="760" y="470.4">159</text>
<text class="rb" x="873" y="985.6">97</text><text class="rb" x="911" y="1030.4">36</text><text class="rb" x="873" y="1120">98</text><text class="rb" x="836" y="1052.8">133</text>
<text class="rb" x="873" y="1209.6">99</text><text class="rb" x="911" y="1299.2">37</text><text class="rb" x="873" y="1344">100</text><text class="rb" x="836" y="1276.8">134</text><text class="rb" x="798" y="1164.8">151</text>
<text class="rb" x="873" y="1433.6">101</text><text class="rb" x="911" y="1478.4">38</text><text class="rb" x="911" y="1568">39</text><text class="rb" x="873" y="1612.8">102</text><text class="rb" x="836" y="1523.2">135</text>
<text class="rb" x="873" y="1702.4">103</text><text class="rb" x="911" y="1792">40</text><text class="rb" x="873" y="1836.8">104</text><text class="rb" x="836" y="1769.6">136</text><text class="rb" x="798" y="1657.6">152</text><text class="rb" x="760" y="1411.2">160</text>
<text class="rb" x="722" y="940.8">164</text>
<text class="cb" x="682" y="962">166</text>
<text class="lb big" x="636" y="989">C</text>
<text class="rb big" x="725" y="988">D</text>
</g>
</g>
</svg>
